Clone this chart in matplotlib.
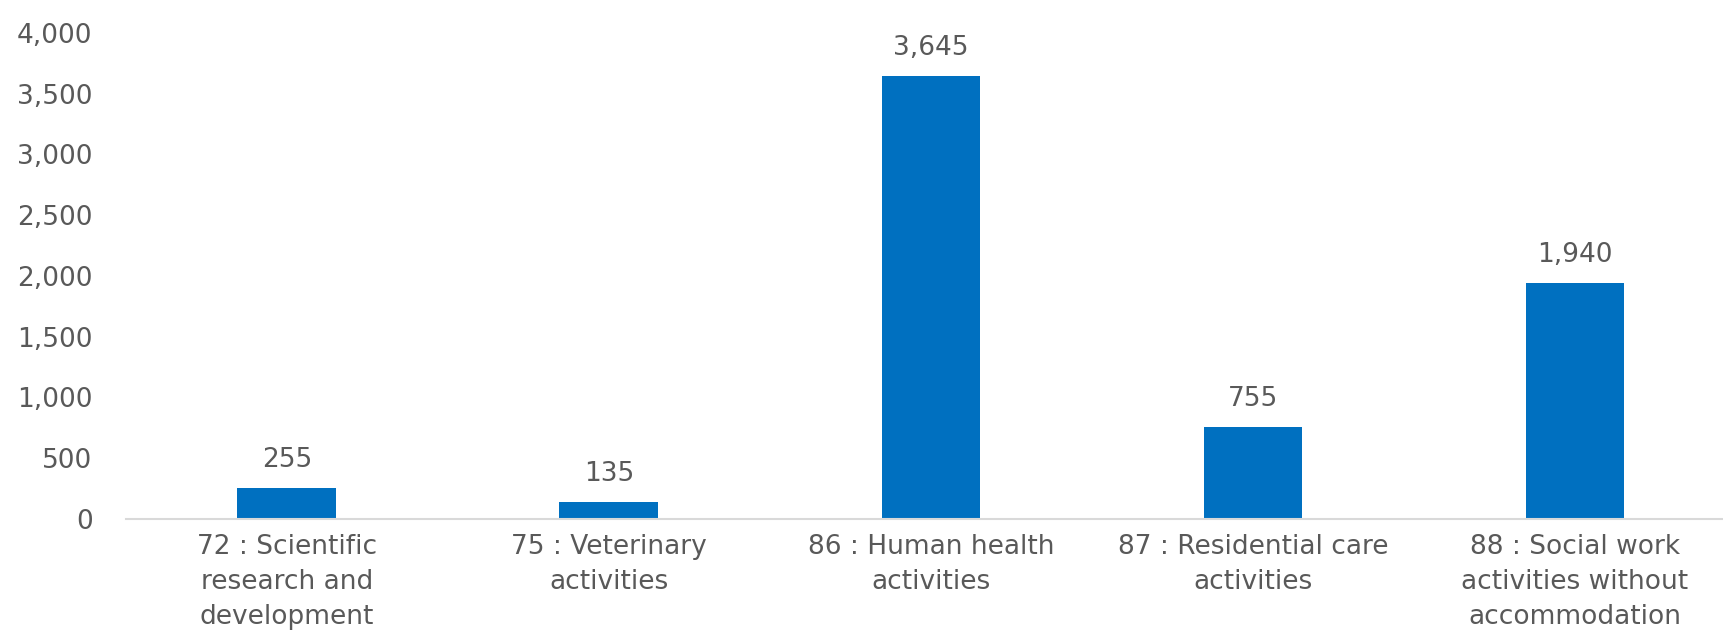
import matplotlib.pyplot as plt
from matplotlib.ticker import FuncFormatter

# categories and values
categories = ["72 : Scientific\nresearch and\ndevelopment",
              "75 : Veterinary\nactivities",
              "86 : Human health\nactivities",
              "87 : Residential care\nactivities",
              "88 : Social work\nactivities without\naccommodation"]
values = [255, 135, 3645, 755, 1940]
yticks = [0, 500, 1000, 1500, 2000, 2500, 3000, 3500, 4000]

txt = '#595959'
fs = 19

fig = plt.figure(figsize=(17.24, 6.32), dpi=100)
ax = fig.add_axes([0.073, 0.179, 0.934, 0.769])

x = range(len(categories))
bars = ax.bar(x, values, width=0.307, color='#0070c0')

# value labels above bars
for b, v in zip(bars, values):
    ax.annotate(f'{v:,}', (b.get_x() + b.get_width() / 2, v),
                xytext=(0, 11), textcoords='offset points',
                ha='center', va='bottom', fontsize=fs, color=txt)

ax.set_xlim(-0.5, len(categories) - 0.5)
ax.set_ylim(0, 4000)
ax.set_yticks(yticks)
ax.yaxis.set_major_formatter(FuncFormatter(lambda v, p: f'{int(v):,}'))
ax.set_xticks(list(x))
ax.set_xticklabels(categories, linespacing=1.45)

for s in ['top', 'right', 'left']:
    ax.spines[s].set_visible(False)
ax.spines['bottom'].set_color('#d9d9d9')
ax.spines['bottom'].set_linewidth(1.5)

ax.tick_params(axis='y', length=0, pad=24, labelsize=fs, labelcolor=txt)
ax.tick_params(axis='x', length=0, pad=11, labelsize=fs, labelcolor=txt)

fig.savefig('out.png', dpi=100)
